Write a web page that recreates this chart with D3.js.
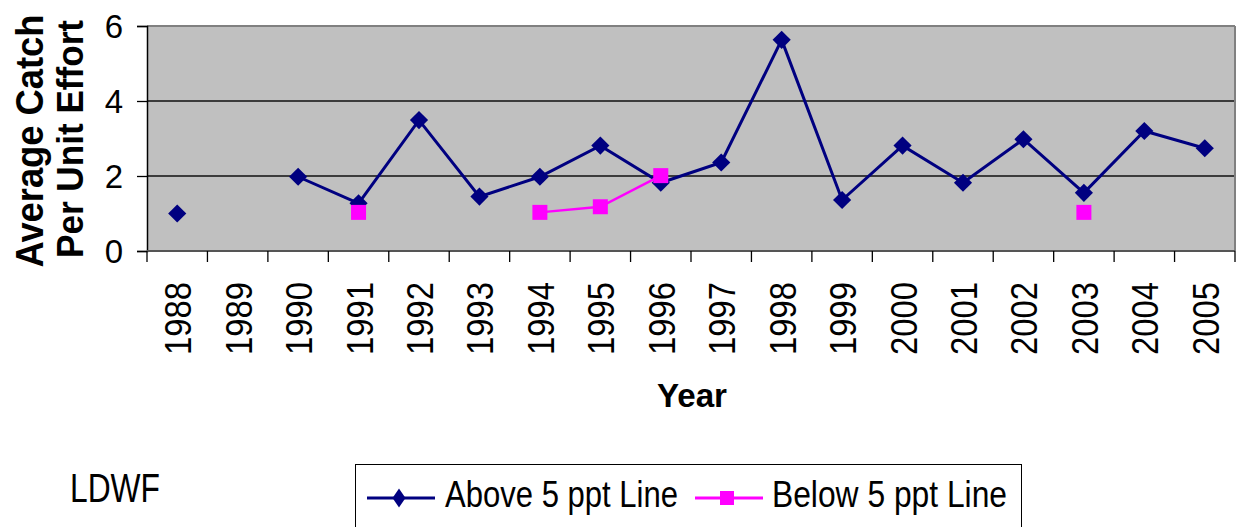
<!DOCTYPE html>
<html><head><meta charset="utf-8">
<script src="https://cdn.jsdelivr.net/npm/d3@7"></script>
<style>body{margin:0;background:#fff}svg{display:block;font-family:"Liberation Sans",Arial,sans-serif}</style>
</head><body>
<svg id="c" width="1245" height="527"></svg>
<script>
const years = ["1988","1989","1990","1991","1992","1993","1994","1995","1996","1997","1998","1999","2000","2001","2002","2003","2004","2005"];
const above = [1.0,null,1.98,1.27,3.49,1.45,1.98,2.81,1.82,2.36,5.63,1.36,2.81,1.82,2.98,1.55,3.2,2.74];
const below = [null,null,null,1.03,null,null,1.03,1.18,2.01,null,null,null,null,null,null,1.03,null,null];
const yTicks = [0,2,4,6];
const seriesNames = ["Above 5 ppt Line","Below 5 ppt Line"];

const svg = d3.select("#c");
const L=147,R=1235,T=26,B=251;
const x = d3.scaleBand().domain(years).range([L,R]).paddingInner(0).paddingOuter(0);
const y = d3.scaleLinear().domain([0,6]).range([B,T]);

svg.append("rect").attr("x",L).attr("y",T).attr("width",R-L).attr("height",B-T).attr("fill","#c0c0c0");
svg.append("g").selectAll("line").data(yTicks.filter(d=>d>0&&d<6)).join("line")
  .attr("x1",L).attr("x2",R).attr("y1",d=>y(d)).attr("y2",d=>y(d)).attr("stroke","#111").attr("stroke-width",1.3);
svg.append("line").attr("x1",L).attr("x2",R).attr("y1",T).attr("y2",T).attr("stroke","#808080").attr("stroke-width",2);
svg.append("line").attr("x1",R).attr("x2",R).attr("y1",T).attr("y2",B).attr("stroke","#808080").attr("stroke-width",2);

const yAxis = d3.axisLeft(y).tickValues(yTicks).tickSize(10).tickPadding(14).tickFormat(d3.format("d"));
const gy = svg.append("g").attr("transform",`translate(${L},0)`).call(yAxis);
gy.select(".domain").attr("stroke","#000").attr("stroke-width",1.5);
gy.selectAll(".tick line").attr("stroke","#000").attr("stroke-width",1.3);
gy.selectAll("text").attr("font-size",33).attr("fill","#000").attr("font-family","Liberation Sans, Arial, sans-serif").attr("dy","0.36em");

svg.append("line").attr("x1",L).attr("x2",R).attr("y1",B).attr("y2",B).attr("stroke","#555").attr("stroke-width",2);
const bounds = years.map(d=>x(d)).concat([R]);
svg.append("g").selectAll("line").data(bounds).join("line")
  .attr("x1",d=>d).attr("x2",d=>d).attr("y1",B).attr("y2",B+11).attr("stroke","#000").attr("stroke-width",1.3);
svg.append("g").selectAll("text").data(years).join("text")
  .attr("transform",d=>`translate(${x(d)+x.bandwidth()/2+14},282) rotate(-90)`)
  .attr("text-anchor","end").attr("font-size",36).attr("textLength",73).attr("lengthAdjust","spacingAndGlyphs")
  .text(d=>d);

svg.append("text").attr("transform","translate(43,141) rotate(-90)").attr("text-anchor","middle")
  .attr("font-size",38).attr("font-weight","bold").attr("textLength",253).attr("lengthAdjust","spacingAndGlyphs").text("Average Catch");
svg.append("text").attr("transform","translate(83,139) rotate(-90)").attr("text-anchor","middle")
  .attr("font-size",37).attr("font-weight","bold").attr("textLength",238).attr("lengthAdjust","spacingAndGlyphs").text("Per Unit Effort");
svg.append("text").attr("x",692).attr("y",407).attr("text-anchor","middle")
  .attr("font-size",34).attr("font-weight","bold").attr("textLength",70).attr("lengthAdjust","spacingAndGlyphs").text("Year");

const cx = d=>x(d)+x.bandwidth()/2;
const navy="#000080", pink="#ff00ff";
const line = d3.line().defined(d=>d[1]!=null).x(d=>cx(d[0])).y(d=>y(d[1]));
const aData = years.map((d,i)=>[d,above[i]]);
const bData = years.map((d,i)=>[d,below[i]]);
svg.append("path").datum(aData).attr("d",line).attr("fill","none").attr("stroke",navy).attr("stroke-width",3);
const diamond = d3.symbol().type(d3.symbolSquare).size(165);
svg.append("g").selectAll("path").data(aData.filter(d=>d[1]!=null)).join("path")
  .attr("d",diamond).attr("transform",d=>`translate(${cx(d[0])},${y(d[1])}) rotate(45)`).attr("fill",navy);
svg.append("path").datum(bData).attr("d",line).attr("fill","none").attr("stroke",pink).attr("stroke-width",2.5);
svg.append("g").selectAll("rect").data(bData.filter(d=>d[1]!=null)).join("rect")
  .attr("x",d=>cx(d[0])-7.5).attr("y",d=>y(d[1])-7.5).attr("width",15).attr("height",15).attr("fill",pink);

svg.append("text").attr("x",70).attr("y",502).attr("font-size",40).attr("textLength",90).attr("lengthAdjust","spacingAndGlyphs").text("LDWF");

svg.append("rect").attr("x",355.5).attr("y",464.5).attr("width",666).attr("height",80).attr("fill","#fff").attr("stroke","#000").attr("stroke-width",1);
const lg = [{name:seriesNames[0],c:navy,x1:367,x2:435,mx:399,tx:445,tl:233,shape:"d"},
            {name:seriesNames[1],c:pink,x1:695,x2:763,mx:727,tx:772,tl:235,shape:"s"}];
const ly=498;
lg.forEach(o=>{
  svg.append("line").attr("x1",o.x1).attr("x2",o.x2).attr("y1",ly).attr("y2",ly).attr("stroke",o.c).attr("stroke-width",3);
  if(o.shape==="d") svg.append("path").attr("d","M0,-9.5L6.5,0L0,9.5L-6.5,0Z").attr("transform",`translate(${o.mx},${ly})`).attr("fill",o.c);
  else svg.append("rect").attr("x",o.mx-7).attr("y",ly-7).attr("width",14).attr("height",14).attr("fill",o.c);
  svg.append("text").attr("x",o.tx).attr("y",507).attr("font-size",37).attr("textLength",o.tl).attr("lengthAdjust","spacingAndGlyphs").text(o.name);
});
</script>
</body></html>
